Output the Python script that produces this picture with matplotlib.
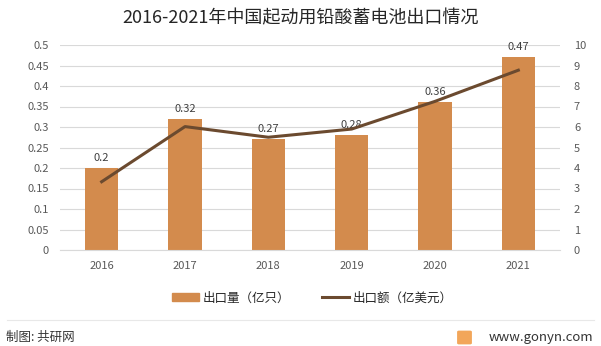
import matplotlib.pyplot as plt
from matplotlib.lines import Line2D
from matplotlib.patches import Patch, FancyBboxPatch

plt.rcParams['font.family'] = ['Noto Sans CJK SC', 'DejaVu Sans']

# data
years = ['2016', '2017', '2018', '2019', '2020', '2021']
volume = [0.2, 0.32, 0.27, 0.28, 0.36, 0.47]        # 出口量（亿只）
value = [3.33, 6.02, 5.5, 5.9, 7.25, 8.77]           # 出口额（亿美元）

bar_color = '#D38B4D'
line_color = '#6B4A2F'
text_color = '#595959'

fig = plt.figure(figsize=(6.01, 3.46), dpi=100)
ax = fig.add_axes([60 / 601, 1 - 250 / 346, 500 / 601, 205 / 346])
x = range(len(years))
ax.bar(x, volume, width=0.4, color=bar_color, zorder=2)
for i, v in enumerate(volume):
    ax.text(i, v + 0.012, str(v), ha='center', va='bottom', fontsize=8, color='#404040')
ax.set_ylim(0, 0.5)
ax.set_xlim(-0.5, len(years) - 0.5)
ax.set_yticks([i * 0.05 for i in range(11)])
ax.set_yticklabels(['0', '0.05', '0.1', '0.15', '0.2', '0.25', '0.3', '0.35', '0.4', '0.45', '0.5'])
ax.set_xticks(list(x))
ax.set_xticklabels(years)
ax.grid(axis='y', color='#D9D9D9', linewidth=0.8, zorder=0)
ax.tick_params(axis='both', length=0, labelsize=8, labelcolor=text_color)
ax.tick_params(axis='x', pad=8)
ax.tick_params(axis='y', pad=8)
for s in ax.spines.values():
    s.set_visible(False)
ax.spines['bottom'].set_visible(True)
ax.spines['bottom'].set_color('#D9D9D9')

ax2 = ax.twinx()
ax2.plot(x, value, color=line_color, linewidth=2.2, zorder=3)
ax2.set_ylim(0, 10)
ax2.set_yticks(range(11))
ax2.tick_params(axis='y', length=0, labelsize=8, labelcolor=text_color, pad=10)
for s in ax2.spines.values():
    s.set_visible(False)

fig.text(0.5, 1 - 18 / 346, '2016-2021年中国起动用铅酸蓄电池出口情况', ha='center', va='center',
         fontsize=13, color='#262626')

handles = [Patch(color=bar_color), Line2D([0], [0], color=line_color, linewidth=2.2)]
fig.legend(handles, ['出口量（亿只）', '出口额（亿美元）'], loc='center',
           bbox_to_anchor=(0.52, 1 - 298 / 346), ncol=2, frameon=False, fontsize=9,
           handlelength=2.2, handleheight=0.6, columnspacing=2.5, handletextpad=0.3,
           labelcolor='#262626')

fig.add_artist(Line2D([7 / 601, 594 / 601], [1 - 320 / 346] * 2, color='#E8E8E8', linewidth=0.8))
fig.text(6 / 601, 1 - 337 / 346, '制图: 共研网', ha='left', va='center', fontsize=9, color='#333333')
fig.text(593 / 601, 1 - 337 / 346, 'www.gonyn.com', ha='right', va='center', fontsize=9.5, color='#333333')
fig.add_artist(FancyBboxPatch((459 / 601, 1 - 343 / 346), 11 / 601, 11 / 346,
                              boxstyle='round,pad=0.002', color='#F2A65A', transform=fig.transFigure))

fig.savefig('out.png', dpi=100)
